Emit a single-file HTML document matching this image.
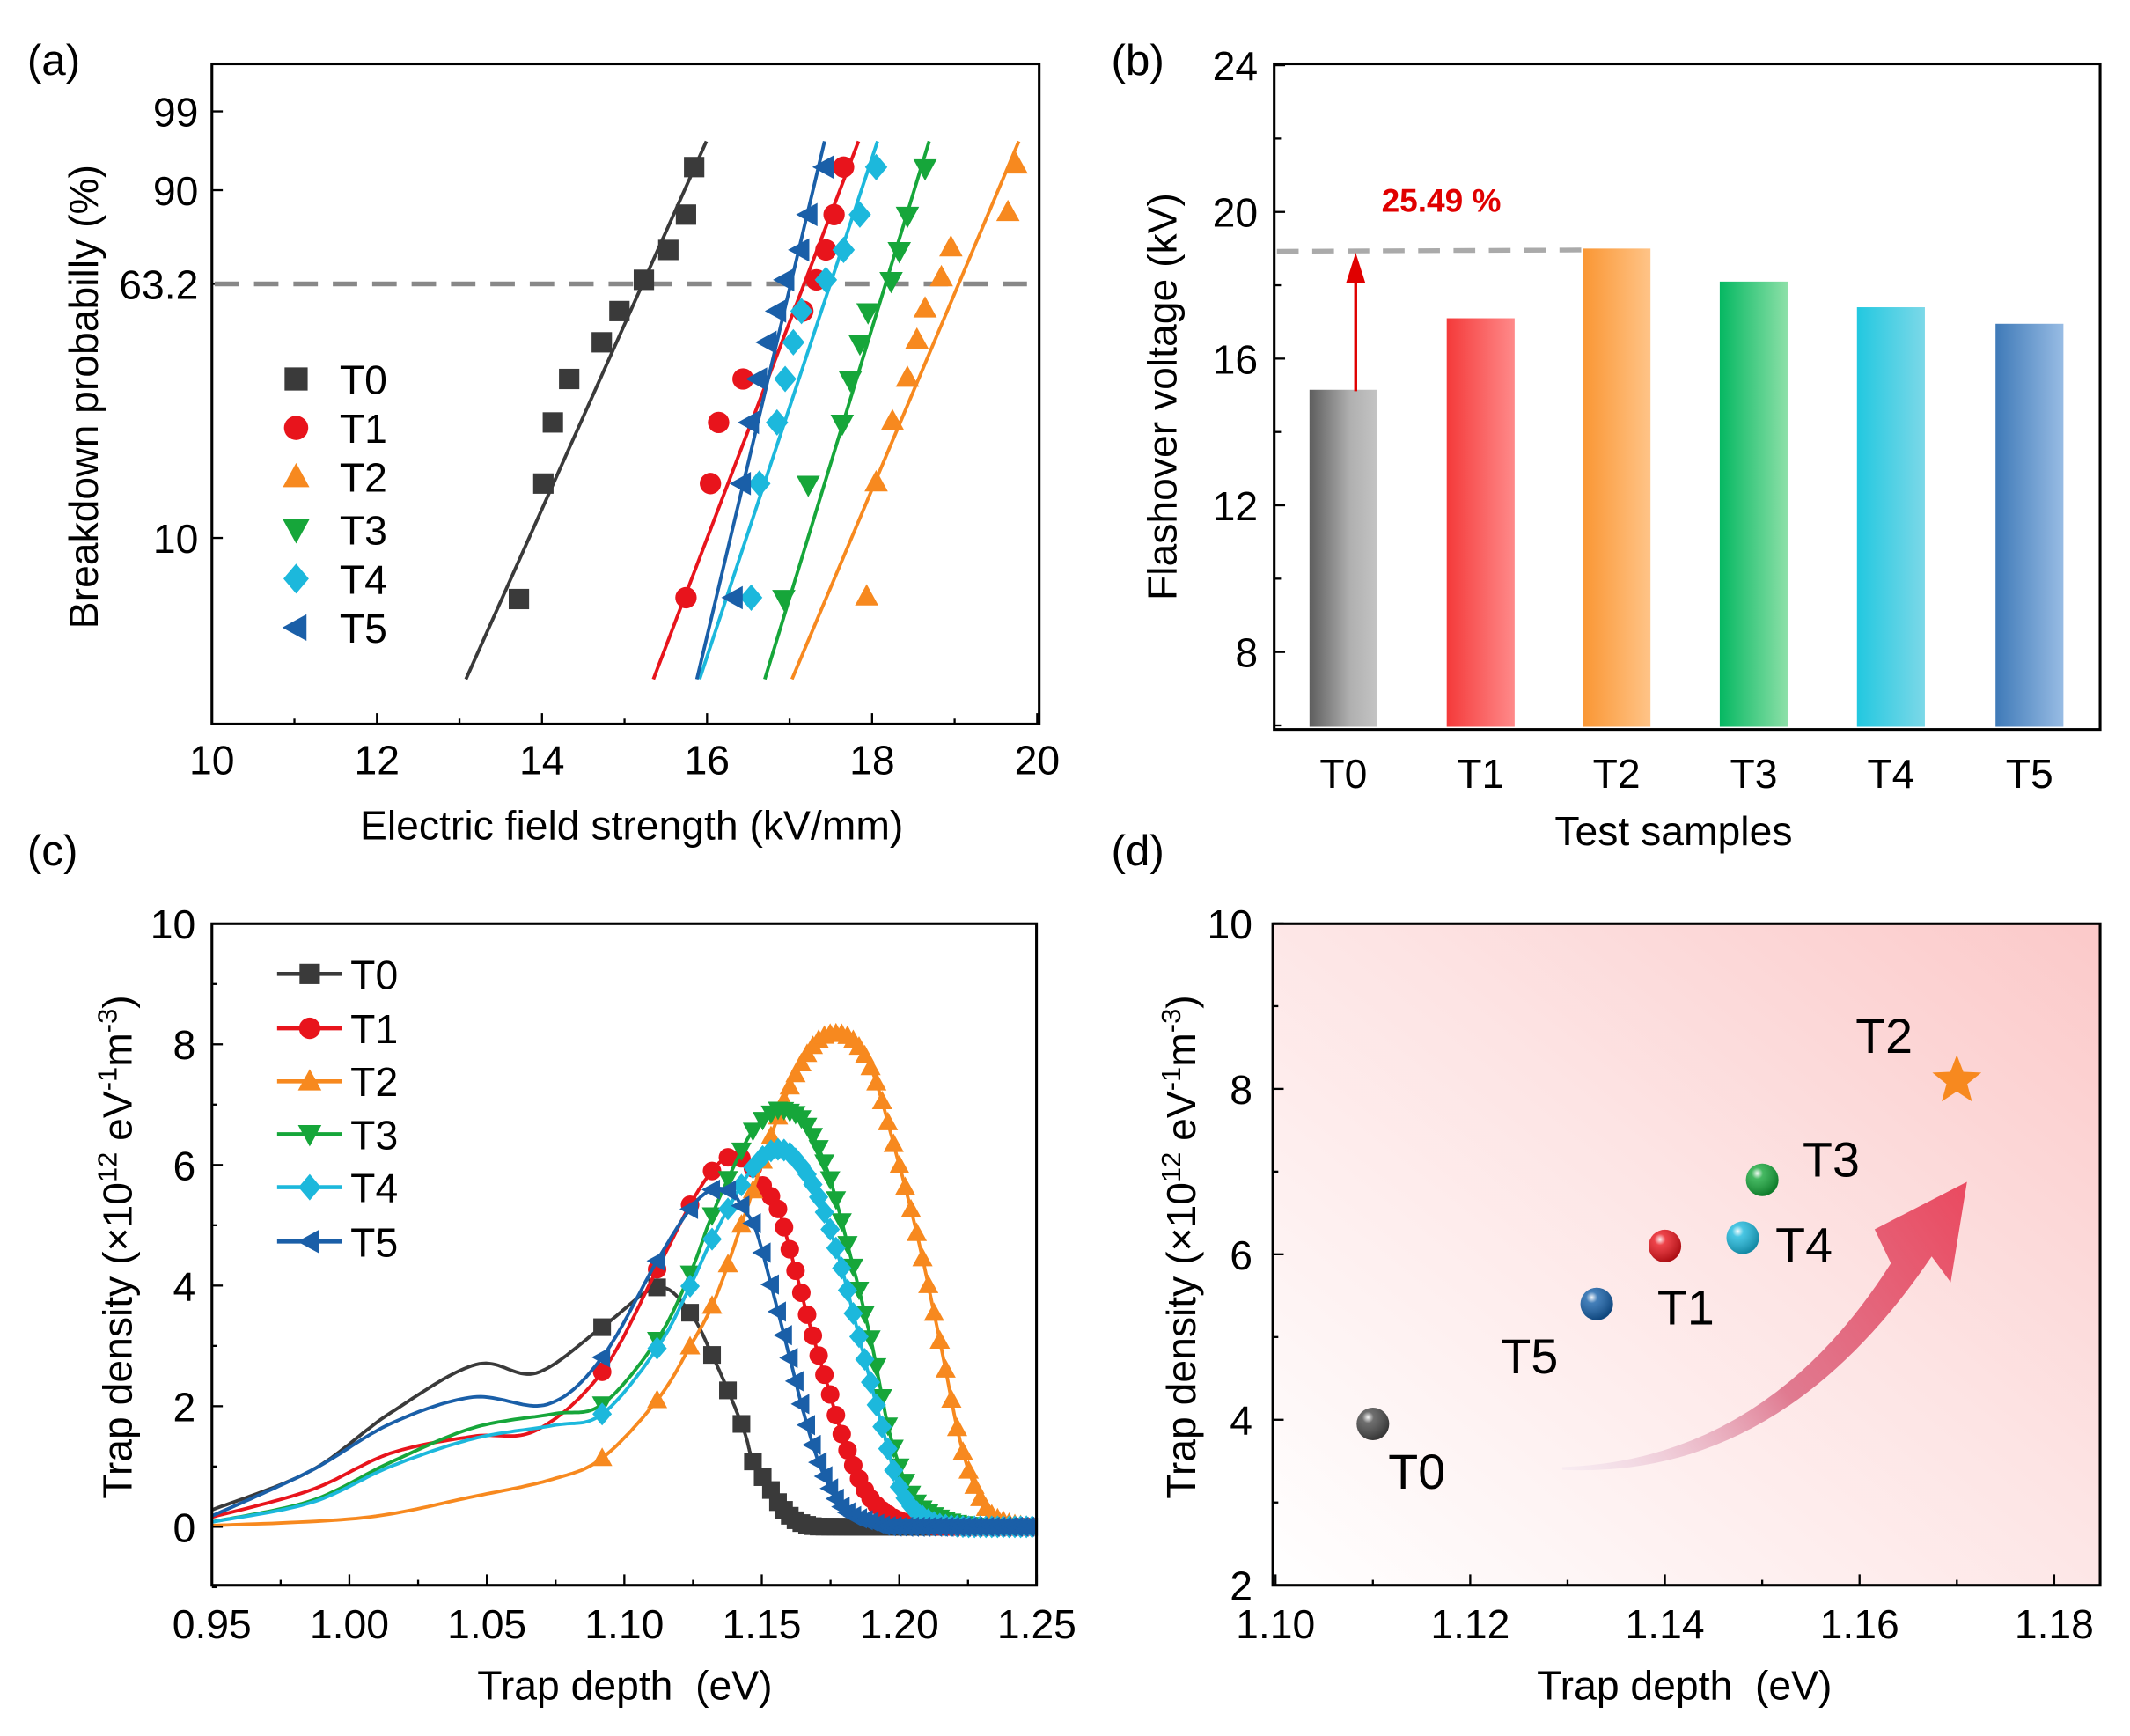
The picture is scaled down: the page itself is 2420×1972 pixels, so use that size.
<!DOCTYPE html>
<html><head><meta charset="utf-8"><style>
html,body{margin:0;padding:0;background:#fff;}
svg{display:block;font-family:"Liberation Sans",Arial,sans-serif;}
</style></head><body>
<svg id="s" width="2420" height="1972" viewBox="0 0 1568 1278" preserveAspectRatio="none" xmlns="http://www.w3.org/2000/svg">
<defs>
<linearGradient id="g0" x1="0" x2="1" y1="0" y2="0"><stop offset="0" stop-color="#5e5e5e"/><stop offset="0.6" stop-color="#b0b0b0"/><stop offset="1" stop-color="#c4c4c4"/></linearGradient>
<linearGradient id="g1" x1="0" x2="1"><stop offset="0" stop-color="#f43a3a"/><stop offset="1" stop-color="#ff8a8a"/></linearGradient>
<linearGradient id="g2" x1="0" x2="1"><stop offset="0" stop-color="#fa9633"/><stop offset="1" stop-color="#ffc488"/></linearGradient>
<linearGradient id="g3" x1="0" x2="1"><stop offset="0" stop-color="#05b862"/><stop offset="1" stop-color="#8de0a8"/></linearGradient>
<linearGradient id="g4" x1="0" x2="1"><stop offset="0" stop-color="#22c8e0"/><stop offset="1" stop-color="#7cd8e8"/></linearGradient>
<linearGradient id="g5" x1="0" x2="1"><stop offset="0" stop-color="#3f7ab8"/><stop offset="1" stop-color="#98bce4"/></linearGradient>
<linearGradient id="bgd" x1="0" y1="1" x2="1" y2="0"><stop offset="0" stop-color="#ffffff"/><stop offset="0.55" stop-color="#fde4e4"/><stop offset="1" stop-color="#fbc9c9"/></linearGradient>
<linearGradient id="arr" x1="1155" y1="1080" x2="1448" y2="870" gradientUnits="userSpaceOnUse"><stop offset="0" stop-color="#e8d8ec" stop-opacity="0.3"/><stop offset="0.45" stop-color="#e07a90"/><stop offset="1" stop-color="#ea4a60"/></linearGradient>
<radialGradient id="sp" cx="0.35" cy="0.3" r="0.7"><stop offset="0" stop-color="#fff" stop-opacity="0.95"/><stop offset="0.25" stop-color="#fff" stop-opacity="0.2"/><stop offset="1" stop-color="#000" stop-opacity="0.25"/></radialGradient>
</defs>
<g id="root" fill="#000" font-size="29"></g>
</svg>
<script>
const NS="http://www.w3.org/2000/svg", root=document.getElementById('root');
function el(t,a,p){const e=document.createElementNS(NS,t);for(const k in a)e.setAttribute(k,a[k]);(p||root).appendChild(e);return e;}
function txt(x,y,s,a){const e=el('text',Object.assign({x:x,y:y},a||{}));e.innerHTML=s;return e;}
const C=["#3a3a3a","#e8141c","#f7891f","#16a63a","#1cb8dc","#1a5fa8"];
const FS=30;
function marker(k,x,y,r,col,p){
 if(k==0) el('rect',{x:x-r,y:y-r,width:2*r,height:2*r,fill:col},p);
 else if(k==1) el('circle',{cx:x,cy:y,r:r*1.05,fill:col},p);
 else if(k==2) el('polygon',{points:`${x},${y-r*1.2} ${x-r*1.15},${y+r*0.9} ${x+r*1.15},${y+r*0.9}`,fill:col},p);
 else if(k==3) el('polygon',{points:`${x},${y+r*1.2} ${x-r*1.15},${y-r*0.9} ${x+r*1.15},${y-r*0.9}`,fill:col},p);
 else if(k==4) el('polygon',{points:`${x},${y-r*1.3} ${x+r*1.1},${y} ${x},${y+r*1.3} ${x-r*1.1},${y}`,fill:col},p);
 else el('polygon',{points:`${x-r*1.2},${y} ${x+r*0.9},${y-r*1.15} ${x+r*0.9},${y+r*1.15}`,fill:col},p);
}
// ---------- Panel a ----------
txt(20,55,"(a)",{"font-size":32});
el('rect',{x:156,y:47,width:609,height:486,fill:"none",stroke:"#000","stroke-width":2});
for(let v=10;v<=20;v++){const x=156+(v-10)*60.75;el('line',{x1:x,y1:533,x2:x,y2:v%2==0?525:529,stroke:"#000","stroke-width":1.5});
 if(v%2==0)txt(x,570,v,{"text-anchor":"middle","font-size":FS});}
[[99,82],[90,140],[63.2,209],[10,396]].forEach(([v,y])=>{el('line',{x1:156,y1:y,x2:164,y2:y,stroke:"#000","stroke-width":1.5});txt(146,y+11,v,{"text-anchor":"end","font-size":FS});});
el('line',{x1:158,y1:209,x2:765,y2:209,stroke:"#888","stroke-width":3.5,"stroke-dasharray":"18,11"});
txt(465,618,"Electric field strength (kV/mm)",{"text-anchor":"middle","font-size":FS});
txt(0,0,"Breakdown probabilly (%)",{"text-anchor":"middle","font-size":FS,transform:"translate(72,292) rotate(-90)"});
const A=[
 {l:[343,500,520,104],p:[[382,441],[400,356],[407,311],[419,279],[443,252],[456,229],[474,206],[492,184],[505,158],[511,123]]},
 {l:[481,500,632,104],p:[[505,440],[523,356],[529,311],[547,279],[591,229],[601,206],[608,184],[614,158],[621,123]]},
 {l:[583,500,750,104],p:[[638,439],[645,355],[657,310],[668,278],[675,250],[681,227],[693,204],[700,182],[742,156],[748,121]]},
 {l:[563,500,684,104],p:[[577,441],[595,357],[620,312],[626,280],[633,253],[639,230],[656,207],[662,185],[668,159],[681,124]]},
 {l:[515,500,646,104],p:[[553,440],[559,356],[572,311],[578,279],[584,252],[590,229],[608,206],[621,184],[633,158],[645,123]]},
 {l:[513,500,607,104],p:[[540,440],[546,356],[552,311],[558,279],[565,252],[572,229],[578,206],[589,184],[595,158],[607,123]]}];
A.forEach((s,i)=>{el('line',{x1:s.l[0],y1:s.l[1],x2:s.l[2],y2:s.l[3],stroke:C[i],"stroke-width":2.5});
 s.p.forEach(([x,y])=>marker(i,x,y,7.5,C[i]));});
[279,315,351,390,426,462].forEach((y,i)=>{marker(i,218,y,8.5,C[i]);txt(250,y+11,"T"+i,{"font-size":FS});});
// ---------- Panel b ----------
txt(818,55,"(b)",{"font-size":32});
const by=v=>48+(24-v)*27;
[[964,15.15],[1065,17.1],[1165,19.0],[1266,18.1],[1367,17.4],[1469,16.95]].forEach(([x,v],i)=>{el('rect',{x:x,y:by(v),width:50,height:535-by(v),fill:`url(#g${i})`});
 txt(x+25,580,"T"+i,{"text-anchor":"middle","font-size":FS});});
el('rect',{x:938,y:47,width:608,height:490,fill:"none",stroke:"#000","stroke-width":2});
for(let v=6;v<=24;v+=2){const y=by(v);el('line',{x1:938,y1:y,x2:v%4==0?946:943,y2:y,stroke:"#000","stroke-width":1.5});
 if(v%4==0)txt(926,y+11,v,{"text-anchor":"end","font-size":FS});}
el('line',{x1:940,y1:185,x2:1172,y2:184,stroke:"#aaa","stroke-width":3.5,"stroke-dasharray":"16,10"});
el('line',{x1:998,y1:288,x2:998,y2:205,stroke:"#e00000","stroke-width":2.2});
el('polygon',{points:"998,186 991,208 1005,208",fill:"#e00000"});
txt(1017,156,"25.49 %",{"font-size":24,"font-weight":"bold",fill:"#e00000"});
txt(1232,622,"Test samples",{"text-anchor":"middle","font-size":FS});
txt(0,0,"Flashover voltage (kV)",{"text-anchor":"middle","font-size":FS,transform:"translate(866,292) rotate(-90)"});
// ---------- Panel c ----------
txt(20,637,"(c)",{"font-size":32});
const cx=E=>156+(E-0.95)*2023, cy=v=>1124-v*44.4;
const D=[
[[0.95,0.28],[0.986,0.93],[1.015,1.89],[1.046,2.69],[1.068,2.55],[1.092,3.31],[1.112,3.97],[1.124,3.55],[1.132,2.85],[1.139,2.13],[1.144,1.54],[1.147,1.07],[1.152,0.72],[1.158,0.29],[1.166,0.04],[1.182,0],[1.25,0]],
[[0.95,0.16],[0.986,0.61],[1.015,1.22],[1.045,1.5],[1.068,1.6],[1.092,2.57],[1.112,4.27],[1.124,5.34],[1.132,5.9],[1.138,6.13],[1.145,6.05],[1.150,5.69],[1.156,5.27],[1.161,4.48],[1.168,3.28],[1.174,2.35],[1.18,1.43],[1.188,0.58],[1.197,0.18],[1.207,0.04],[1.221,0],[1.25,0]],
[[0.95,0.02],[1.005,0.15],[1.045,0.5],[1.074,0.79],[1.092,1.14],[1.112,2.1],[1.124,2.99],[1.133,3.77],[1.143,5.05],[1.154,6.55],[1.162,7.47],[1.17,8.04],[1.177,8.18],[1.184,8.04],[1.191,7.47],[1.199,6.19],[1.207,4.77],[1.215,3.06],[1.223,1.29],[1.231,0.36],[1.239,0.08],[1.25,0]],
[[0.95,0.08],[0.986,0.43],[1.015,1.07],[1.045,1.64],[1.074,1.87],[1.092,2.03],[1.112,3.1],[1.124,4.2],[1.131,5.05],[1.137,5.69],[1.146,6.51],[1.154,6.87],[1.159,6.9],[1.166,6.69],[1.174,5.9],[1.182,4.56],[1.19,3.06],[1.197,1.49],[1.205,0.5],[1.215,0.15],[1.231,0],[1.25,0]],
[[0.95,0.08],[0.986,0.4],[1.015,1.0],[1.045,1.46],[1.074,1.68],[1.092,1.87],[1.112,2.96],[1.124,3.99],[1.132,4.77],[1.143,5.69],[1.150,6.12],[1.156,6.26],[1.162,6.12],[1.170,5.55],[1.178,4.48],[1.186,3.06],[1.194,1.64],[1.201,0.58],[1.211,0.11],[1.225,0],[1.25,0]],
[[0.95,0.18],[0.986,0.93],[1.015,1.71],[1.045,2.15],[1.072,2.03],[1.092,2.81],[1.112,4.41],[1.124,5.27],[1.132,5.59],[1.139,5.55],[1.143,5.3],[1.148,4.91],[1.154,3.92],[1.16,2.85],[1.166,1.78],[1.172,0.93],[1.18,0.29],[1.19,0.08],[1.201,0],[1.25,0]]];
function dense(P){const o=[];for(let i=0;i<P.length-1;i++){const p0=P[Math.max(0,i-1)],p1=P[i],p2=P[i+1],p3=P[Math.min(P.length-1,i+2)];
 for(let t=0;t<1;t+=0.05){const t2=t*t,t3=t2*t;const f=(a,b,c,d)=>0.5*(2*b+(-a+c)*t+(2*a-5*b+4*c-d)*t2+(-a+3*b-3*c+d)*t3);
 o.push([f(p0[0],p1[0],p2[0],p3[0]),Math.max(0,f(p0[1],p1[1],p2[1],p3[1]))]);}}o.push(P[P.length-1]);return o;}
function at(d,E){for(let i=0;i<d.length-1;i++){if(d[i][0]<=E&&d[i+1][0]>=E){const t=(E-d[i][0])/(d[i+1][0]-d[i][0]||1);return d[i][1]+t*(d[i+1][1]-d[i][1]);}}return 0;}
const ME=[1.092,1.112,1.124,1.132];{let e=1.132,s=0.0068;while(e<1.25){s=Math.max(0.0021,s*0.85);e+=s;ME.push(e);}}
const MSZ=[6.5,6.5,6.5,6.5,6.5,6.5];
D.forEach((P,i)=>{const d=dense(P);el('path',{d:"M"+d.map(p=>cx(p[0]).toFixed(1)+","+cy(p[1]).toFixed(1)).join("L"),fill:"none",stroke:C[i],"stroke-width":2.5});
 const g=el('g',{});ME.forEach(E=>{if(E<=1.25)marker(i,cx(E),cy(at(d,E)),MSZ[i],C[i],g);});});
el('rect',{x:764,y:670,width:20,height:520,fill:"#fff"});
el('rect',{x:156,y:680,width:607,height:487,fill:"none",stroke:"#000","stroke-width":2});
for(let v=-1;v<=10;v++){const y=cy(v);el('line',{x1:156,y1:y,x2:v%2==0?164:160,y2:y,stroke:"#000","stroke-width":1.5});
 if(v%2==0&&v>=0)txt(144,y+11,v,{"text-anchor":"end","font-size":FS});}
for(let k=0;k<=12;k++){const x=156+k*50.6;el('line',{x1:x,y1:1167,x2:x,y2:k%2==0?1159:1163,stroke:"#000","stroke-width":1.5});
 if(k%2==0)txt(x,1206,(0.95+k*0.025).toFixed(2),{"text-anchor":"middle","font-size":FS});}
[717,757,796,835,874,914].forEach((y,i)=>{el('line',{x1:204,y1:y,x2:252,y2:y,stroke:C[i],"stroke-width":3});marker(i,228,y,7.5,C[i]);txt(258,y+11,"T"+i,{"font-size":FS});});
txt(460,1251,"Trap depth&#160;&#160;(eV)",{"text-anchor":"middle","font-size":FS});
const yl=(x,y)=>{const t=el('text',{"text-anchor":"middle","font-size":FS,transform:`translate(${x},${y}) rotate(-90)`});t.innerHTML='Trap density (×10<tspan dy="-11" font-size="20">12</tspan><tspan dy="11"> eV</tspan><tspan dy="-11" font-size="20">-1</tspan><tspan dy="11">m</tspan><tspan dy="-11" font-size="20">-3</tspan><tspan dy="11">)</tspan>';};
yl(97,918);
// ---------- Panel d ----------
txt(818,637,"(d)",{"font-size":32});
const dx=E=>939+(E-1.10)*7165, dy=v=>1167-(v-2)*60.9;
el('rect',{x:937,y:680,width:609,height:487,fill:"url(#bgd)"});
el('path',{d:"M1150,1080 Q1300,1075 1392,930 L1380,905 L1448,870 L1436,944 L1422,925 Q1310,1090 1150,1082 Z",fill:"url(#arr)"});
el('rect',{x:937,y:680,width:609,height:487,fill:"none",stroke:"#000","stroke-width":2});
for(let v=2;v<=10;v++){const y=dy(v);el('line',{x1:937,y1:y,x2:v%2==0?945:941,y2:y,stroke:"#000","stroke-width":1.5});
 if(v%2==0)txt(922,y+11,v,{"text-anchor":"end","font-size":FS});}
for(let k=0;k<=8;k++){const x=dx(1.10+k*0.01);el('line',{x1:x,y1:1167,x2:x,y2:k%2==0?1159:1163,stroke:"#000","stroke-width":1.5});
 if(k%2==0)txt(x,1206,(1.10+k*0.01).toFixed(2),{"text-anchor":"middle","font-size":FS});}
[[1.11,3.95,"#4a4a4a"],[1.133,5.4,"#155fa8"],[1.14,6.1,"#e8141c"],[1.148,6.2,"#1cb8dc"],[1.15,6.9,"#16a63a"]].forEach(([E,v,c])=>{
 el('ellipse',{cx:dx(E),cy:dy(v),rx:12,ry:12,fill:c});el('ellipse',{cx:dx(E),cy:dy(v),rx:12,ry:12,fill:"url(#sp)"});});
{const x0=dx(1.17),y0=dy(8.1),R=19,r=8;let pts=[];for(let i=0;i<10;i++){const a=-Math.PI/2+i*Math.PI/5,rr=i%2?r:R;pts.push((x0+rr*Math.cos(a)).toFixed(1)+","+(y0+rr*Math.sin(a)).toFixed(1));}el('polygon',{points:pts.join(" "),fill:"#f7891f"});}
[["T0",1022,1083],["T5",1105,998],["T1",1220,962],["T4",1307,916],["T3",1327,853],["T2",1366,762]].forEach(([s,x,y])=>txt(x,y+13,s,{"font-size":36}));
txt(1240,1251,"Trap depth&#160;&#160;(eV)",{"text-anchor":"middle","font-size":FS});
yl(880,918);
</script>
</body></html>
